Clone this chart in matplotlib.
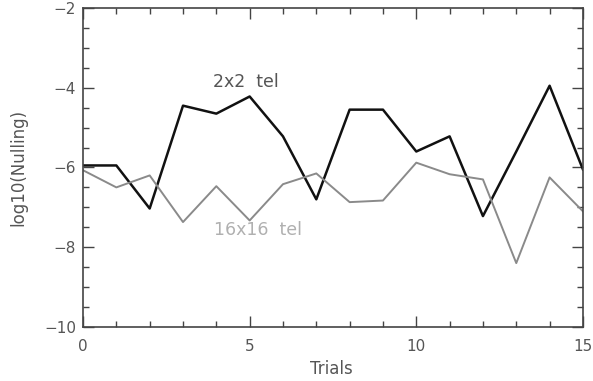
import matplotlib
matplotlib.use("Agg")
import matplotlib.pyplot as plt
from matplotlib.ticker import MultipleLocator

plt.rcParams['font.family'] = ['DejaVu Sans']

trials = list(range(16))
tel_2x2 = [-5.95, -5.95, -7.03, -4.45, -4.65, -4.22, -5.22, -6.8,
           -4.55, -4.55, -5.6, -5.22, -7.22, -5.6, -3.95, -6.05]
tel_16x16 = [-6.07, -6.5, -6.2, -7.37, -6.47, -7.33, -6.42, -6.15,
             -6.87, -6.83, -5.88, -6.17, -6.3, -8.4, -6.25, -7.1]

fig = plt.figure(figsize=(5.93, 3.81), dpi=100)
ax = fig.add_axes([0.14, 0.142, 0.843, 0.837])

ax.plot(trials, tel_2x2, color='#111111', lw=1.8)
ax.plot(trials, tel_16x16, color='#8a8a8a', lw=1.4)

ax.text(4.89, -3.85, '2x2  tel', color='#555555', fontsize=12.5, ha='center', va='center')
ax.text(5.24, -7.57, '16x16  tel', color='#b0b0b0', fontsize=12.5, ha='center', va='center')

ax.set_xlim(0, 15)
ax.set_ylim(-10, -2)
ax.xaxis.set_major_locator(MultipleLocator(5))
ax.xaxis.set_minor_locator(MultipleLocator(1))
ax.yaxis.set_major_locator(MultipleLocator(2))
ax.yaxis.set_minor_locator(MultipleLocator(0.5))
ax.tick_params(which='both', direction='in', top=True, right=True,
               color='#444444', labelcolor='#555555', labelsize=11)
ax.tick_params(which='major', length=8, width=1)
ax.tick_params(which='minor', length=4, width=1)
ax.tick_params(axis='x', pad=9)
ax.tick_params(axis='y', pad=5)
for s in ax.spines.values():
    s.set_color('#444444')
    s.set_linewidth(1.2)

W, H = 593, 381
fig.text(331 / W, 1 - 369 / H, 'Trials', color='#555555', fontsize=12,
         ha='center', va='center')
fig.text(18 / W, 1 - 167 / H, 'log10(Nulling)', color='#555555', fontsize=12,
         ha='center', va='center', rotation=90)

fig.savefig('out.png', dpi=100)
